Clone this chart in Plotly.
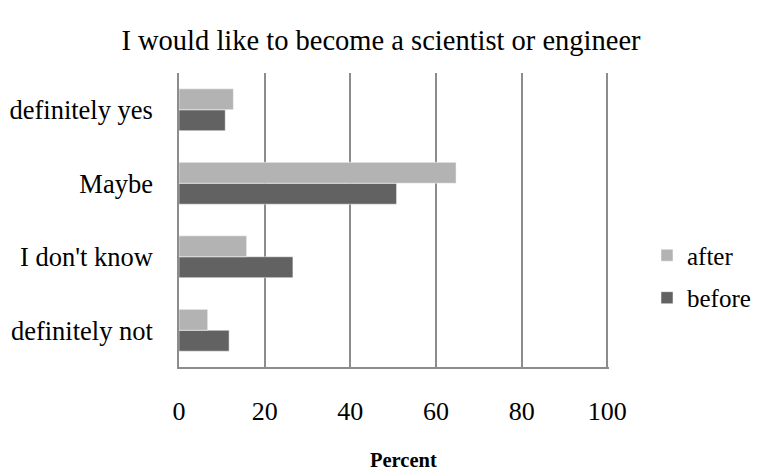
import plotly.graph_objects as go

categories = ["definitely not", "I don't know", "Maybe", "definitely yes"]
before = [11.7, 26.6, 50.8, 10.8]
after = [6.7, 15.8, 64.7, 12.7]
x_ticks = [0, 20, 40, 60, 80, 100]

FONT = "Liberation Serif, Times New Roman, serif"

# page has an 8px body margin, so the figure is drawn 8px smaller and shifted
W, H = 752, 464
L, T, R, B = 171, 65, 151, 105
PH = H - T - B
PW = W - L - R

fig = go.Figure()
fig.add_trace(go.Bar(y=categories, x=before, name="before", orientation="h",
                     legendgroup="b", legendrank=2,
                     marker=dict(color="#626262", line=dict(color="#ffffff", width=0.5))))
fig.add_trace(go.Bar(y=categories, x=after, name="after", orientation="h",
                     legendgroup="a", legendrank=1,
                     marker=dict(color="#b3b3b3", line=dict(color="#ffffff", width=0.5))))

fig.update_layout(
    width=W, height=H,
    barmode="group", bargap=0.43, bargroupgap=0,
    plot_bgcolor="white", paper_bgcolor="white",
    margin=dict(l=L, r=R, t=T, b=B, autoexpand=False),
    font=dict(family=FONT, size=26, color="black"),
    title=dict(text="I would like to become a scientist or engineer",
               x=373 / W, xanchor="center", y=1 - 32 / H, yanchor="middle",
               font=dict(size=28.5, family=FONT)),
    legend=dict(traceorder="grouped", x=1.1 - 5 / PW, xanchor="left", y=0.308, yanchor="middle",
                font=dict(size=25, family=FONT), itemwidth=30, tracegroupgap=7,
                bgcolor="rgba(0,0,0,0)"),
    showlegend=True,
    annotations=[dict(text="<b>Percent</b>", xref="paper", yref="paper",
                      x=0.521, y=-93 / PH, xanchor="center", yanchor="middle",
                      showarrow=False, font=dict(size=20.5, family=FONT))],
)
fig.update_xaxes(range=[0, 100.4], tickvals=x_ticks, showgrid=True, gridcolor="#8c8c8c",
                 gridwidth=1.5, showline=True, linecolor="#8c8c8c", linewidth=1.5,
                 zeroline=False, ticks="", ticklabelstandoff=20, automargin=False,
                 tickfont=dict(size=26, family=FONT))
fig.update_yaxes(showgrid=False, showline=True, linecolor="#8c8c8c", linewidth=1.5,
                 ticks="", ticklabelstandoff=19, automargin=False,
                 tickfont=dict(size=26.5, family=FONT))

fig.write_html("out.html")
